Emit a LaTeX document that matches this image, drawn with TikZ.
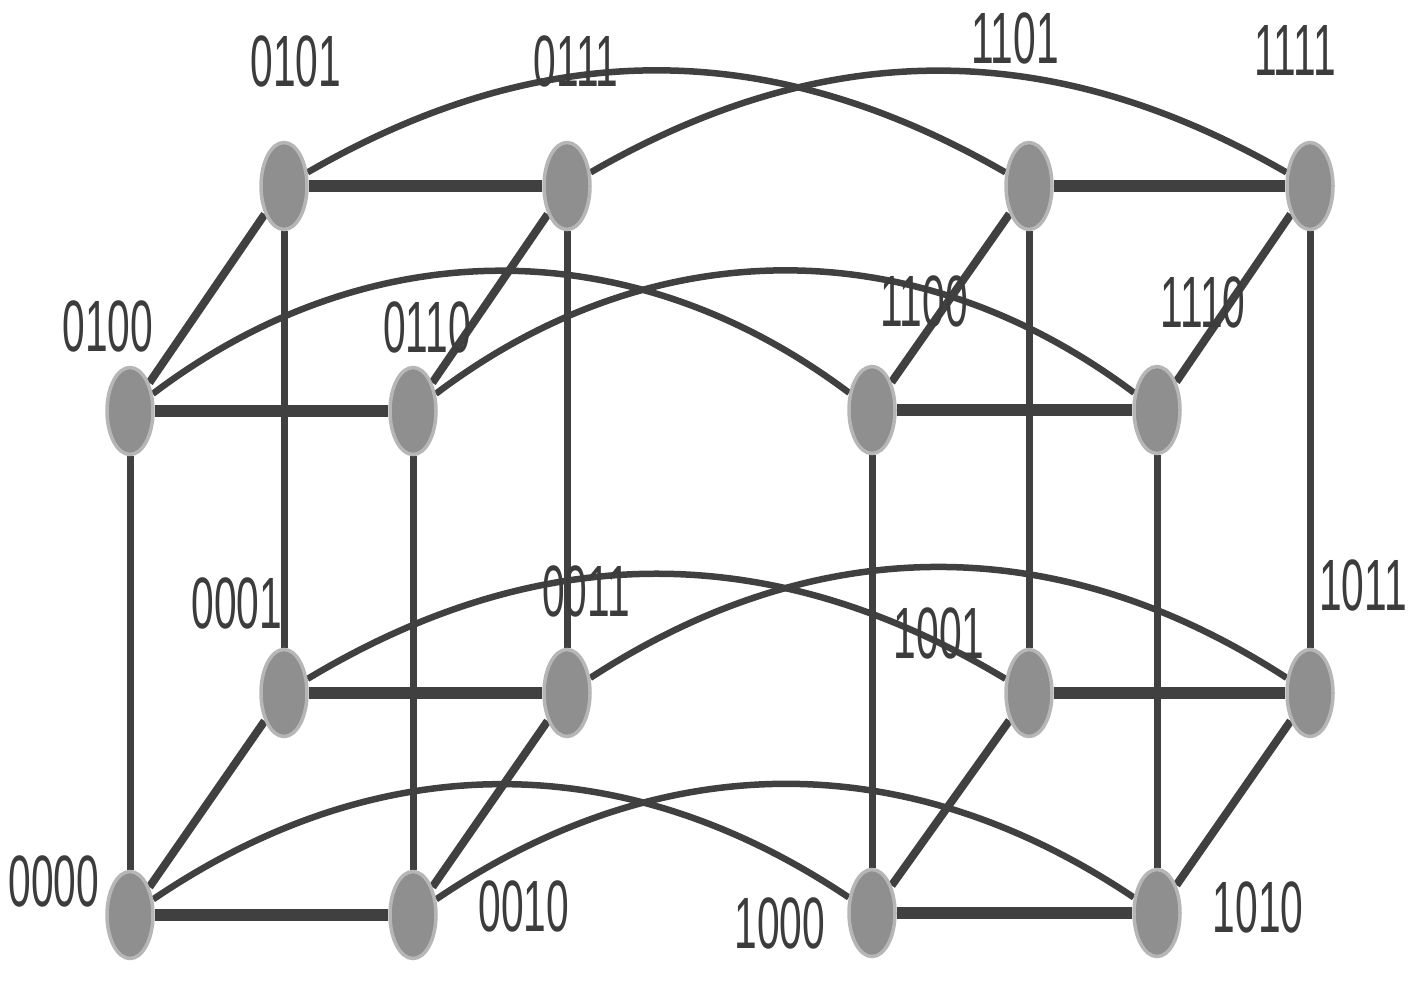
\documentclass[tikz,border=0pt]{standalone}
\usepackage{fontspec}
\setmainfont{Liberation Sans}
\usetikzlibrary{shapes.geometric,backgrounds}
\definecolor{edgec}{HTML}{404040}
\definecolor{vfill}{HTML}{8F8F8F}
\definecolor{vborder}{HTML}{B6B6B6}
\definecolor{labc}{HTML}{3C3C3C}
\newcommand\lbltxt[1]{\scalebox{0.56}[1]{#1}}
\begin{document}
\begin{tikzpicture}[x=1bp,y=-1bp,
  vtx/.style={ellipse, draw=vborder, fill=vfill, line width=3.5bp, minimum width=46bp, minimum height=87bp, inner sep=0pt},
  lab/.style={inner sep=0pt, text=labc, font=\fontsize{73}{73}\selectfont},
  bar/.style={draw=edgec, line width=12bp},
  vert/.style={draw=edgec, line width=7bp},
  diag/.style={draw=edgec, line width=8bp},
  arcl/.style={draw=edgec, line width=6.5bp},
]
\useasboundingbox (0,0) rectangle (1417,990);
% vertices
\node[vtx] (v0000) at (130,915) {};
\node[vtx] (v0010) at (413,915) {};
\node[vtx] (v1000) at (872,913) {};
\node[vtx] (v1010) at (1157,913) {};
\node[vtx] (v0001) at (284,693) {};
\node[vtx] (v0011) at (567,693) {};
\node[vtx] (v1001) at (1029,693) {};
\node[vtx] (v1011) at (1310,693) {};
\node[vtx] (v0100) at (130,411) {};
\node[vtx] (v0110) at (413,411) {};
\node[vtx] (v1100) at (872,410) {};
\node[vtx] (v1110) at (1157,410) {};
\node[vtx] (v0101) at (284,186) {};
\node[vtx] (v0111) at (567,186) {};
\node[vtx] (v1101) at (1029,186) {};
\node[vtx] (v1111) at (1310,186) {};
% labels
\node[lab] (l0101) at (296,61) {\lbltxt{0101}};
\node[lab] (l0111) at (576,61) {\lbltxt{0111}};
\node[lab] (l1101) at (1015,38) {\lbltxt{1101}};
\node[lab] (l1111) at (1295,50) {\lbltxt{1111}};
\node[lab] (l0100) at (108,326) {\lbltxt{0100}};
\node[lab] (l0110) at (427,327) {\lbltxt{0110}};
\node[lab] (l1100) at (924,301) {\lbltxt{1100}};
\node[lab] (l1110) at (1203,302) {\lbltxt{1110}};
\node[lab] (l0001) at (237,603) {\lbltxt{0001}};
\node[lab] (l0011) at (586,591) {\lbltxt{0011}};
\node[lab] (l1001) at (939,633) {\lbltxt{1001}};
\node[lab] (l1011) at (1363,585) {\lbltxt{1011}};
\node[lab] (l0000) at (54,881) {\lbltxt{0000}};
\node[lab] (l0010) at (524,906) {\lbltxt{0010}};
\node[lab] (l1000) at (780,923) {\lbltxt{1000}};
\node[lab] (l1010) at (1258,907) {\lbltxt{1010}};
\begin{scope}[on background layer]
% horizontal bars
\draw[bar] (v0101) -- (v0111);
\draw[bar] (v1101) -- (v1111);
\draw[bar] (v0100) -- (v0110);
\draw[bar] (v1100) -- (v1110);
\draw[bar] (v0001) -- (v0011);
\draw[bar] (v1001) -- (v1011);
\draw[bar] (v0000) -- (v0010);
\draw[bar] (v1000) -- (v1010);
% verticals
\draw[vert] (v0000) -- (v0100);
\draw[vert] (v0010) -- (v0110);
\draw[vert] (v0001) -- (v0101);
\draw[vert] (v0011) -- (v0111);
\draw[vert] (v1000) -- (v1100);
\draw[vert] (v1010) -- (v1110);
\draw[vert] (v1001) -- (v1101);
\draw[vert] (v1011) -- (v1111);
% diagonals
\draw[diag] (v0100) -- (v0101);
\draw[diag] (v0110) -- (v0111);
\draw[diag] (v1100) -- (v1101);
\draw[diag] (v1110) -- (v1111);
\draw[diag] (v0000) -- (v0001);
\draw[diag] (v0010) -- (v0011);
\draw[diag] (v1000) -- (v1001);
\draw[diag] (v1010) -- (v1011);
% arcs
\draw[arcl] (v0101) to[bend left=30] (v1101);
\draw[arcl] (v0111) to[bend left=30] (v1111);
\draw[arcl] (v0100) to[bend left=37] (v1100);
\draw[arcl] (v0110) to[bend left=37] (v1110);
\draw[arcl] (v0001) to[bend left=31] (v1001);
\draw[arcl] (v0011) to[bend left=33] (v1011);
\draw[arcl] (v0000) to[bend left=34] (v1000);
\draw[arcl] (v0010) to[bend left=34] (v1010);
\end{scope}
\end{tikzpicture}
\end{document}
